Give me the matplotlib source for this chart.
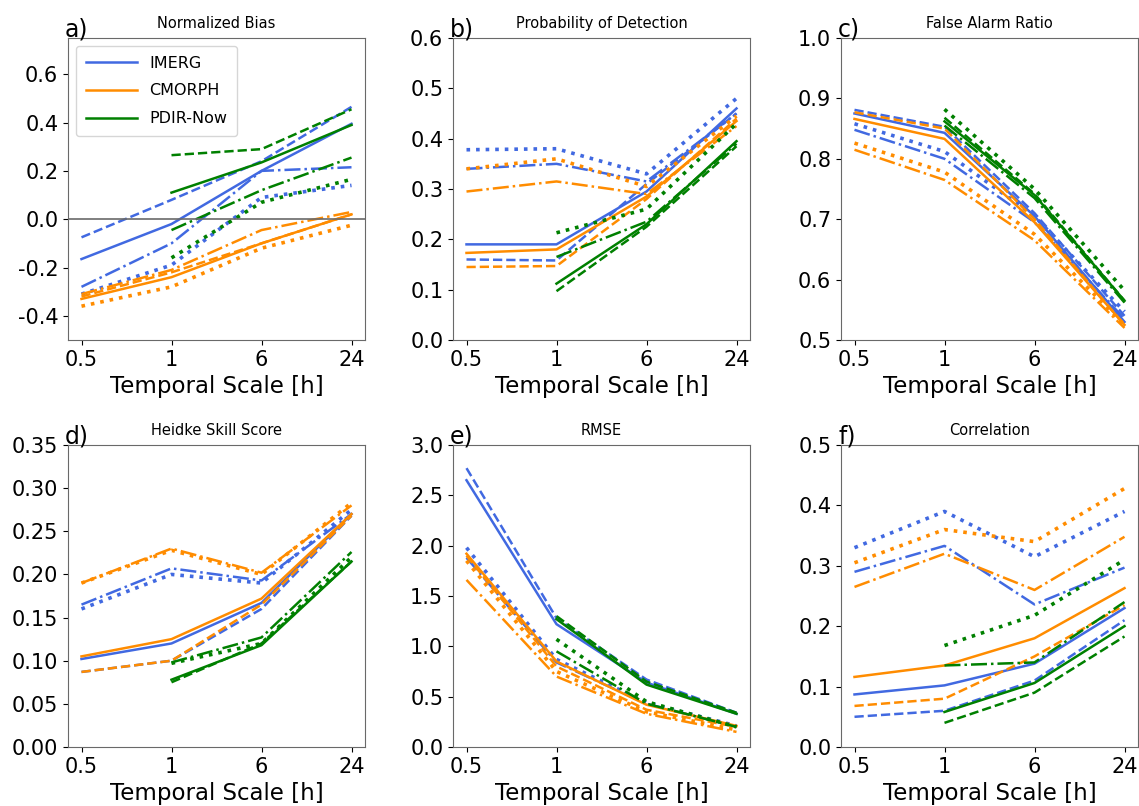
import numpy as np
import matplotlib.pyplot as plt

nan = np.nan

scales = ['0.5', '1', '6', '24']
products = ['IMERG', 'CMORPH', 'PDIR-Now']
colors = {'IMERG': 'royalblue', 'CMORPH': 'darkorange', 'PDIR-Now': 'green'}
styles = ['-', '--', '-.', ':']

# each metric: product -> [solid, dashed, dashdot, dotted] series over scales
bias = {
    'IMERG':    [[-0.165, -0.02, 0.20, 0.395], [-0.075, 0.08, 0.24, 0.465],
                 [-0.28, -0.10, 0.20, 0.215], [-0.31, -0.19, 0.09, 0.14]],
    'CMORPH':   [[-0.33, -0.24, -0.10, 0.02], [-0.32, -0.22, -0.10, 0.02],
                 [-0.31, -0.21, -0.045, 0.03], [-0.36, -0.28, -0.12, -0.025]],
    'PDIR-Now': [[nan, 0.11, 0.235, 0.39], [nan, 0.265, 0.29, 0.455],
                 [nan, -0.045, 0.12, 0.255], [nan, -0.16, 0.07, 0.165]],
}
pod = {
    'IMERG':    [[0.19, 0.19, 0.295, 0.46], [0.16, 0.158, 0.31, 0.45],
                 [0.34, 0.35, 0.315, 0.45], [0.378, 0.38, 0.33, 0.48]],
    'CMORPH':   [[0.173, 0.18, 0.285, 0.435], [0.145, 0.147, 0.28, 0.44],
                 [0.295, 0.315, 0.29, 0.425], [0.34, 0.36, 0.305, 0.445]],
    'PDIR-Now': [[nan, 0.112, 0.23, 0.395], [nan, 0.097, 0.225, 0.385],
                 [nan, 0.165, 0.235, 0.39], [nan, 0.213, 0.26, 0.43]],
}
far = {
    'IMERG':    [[0.875, 0.843, 0.705, 0.53], [0.881, 0.853, 0.71, 0.54],
                 [0.848, 0.80, 0.695, 0.535], [0.858, 0.812, 0.705, 0.547]],
    'CMORPH':   [[0.866, 0.833, 0.695, 0.525], [0.877, 0.85, 0.70, 0.525],
                 [0.815, 0.765, 0.665, 0.52], [0.826, 0.778, 0.675, 0.525]],
    'PDIR-Now': [[nan, 0.862, 0.74, 0.565], [nan, 0.868, 0.742, 0.565],
                 [nan, 0.855, 0.735, 0.562], [nan, 0.882, 0.75, 0.582]],
}
hss = {
    'IMERG':    [[0.102, 0.12, 0.167, 0.27], [0.087, 0.10, 0.16, 0.268],
                 [0.165, 0.207, 0.193, 0.27], [0.16, 0.20, 0.19, 0.275]],
    'CMORPH':   [[0.105, 0.125, 0.172, 0.27], [0.087, 0.10, 0.165, 0.268],
                 [0.19, 0.23, 0.202, 0.28], [0.19, 0.228, 0.20, 0.283]],
    'PDIR-Now': [[nan, 0.078, 0.118, 0.215], [nan, 0.075, 0.12, 0.215],
                 [nan, 0.098, 0.127, 0.226], [nan, 0.097, 0.12, 0.22]],
}
rmse = {
    'IMERG':    [[2.65, 1.22, 0.64, 0.33], [2.77, 1.28, 0.67, 0.34],
                 [1.88, 0.84, 0.43, 0.20], [1.98, 0.87, 0.44, 0.21]],
    'CMORPH':   [[1.92, 0.85, 0.42, 0.21], [1.90, 0.80, 0.37, 0.20],
                 [1.66, 0.70, 0.33, 0.15], [1.85, 0.75, 0.35, 0.17]],
    'PDIR-Now': [[nan, 1.27, 0.62, 0.33], [nan, 1.30, 0.65, 0.34],
                 [nan, 0.95, 0.43, 0.20], [nan, 1.07, 0.45, 0.20]],
}
corr = {
    'IMERG':    [[0.087, 0.102, 0.138, 0.23], [0.05, 0.06, 0.11, 0.21],
                 [0.29, 0.333, 0.236, 0.297], [0.33, 0.39, 0.315, 0.39]],
    'CMORPH':   [[0.116, 0.135, 0.18, 0.263], [0.068, 0.08, 0.15, 0.235],
                 [0.265, 0.32, 0.26, 0.348], [0.305, 0.36, 0.34, 0.428]],
    'PDIR-Now': [[nan, 0.058, 0.106, 0.20], [nan, 0.04, 0.09, 0.183],
                 [nan, 0.135, 0.14, 0.24], [nan, 0.168, 0.218, 0.31]],
}

panels = [
    ('a)', 'Normalized Bias', bias, (-0.5, 0.75), [-0.4, -0.2, 0.0, 0.2, 0.4, 0.6], '{:.1f}'),
    ('b)', 'Probability of Detection', pod, (0, 0.6), np.arange(0, 0.61, 0.1), '{:.1f}'),
    ('c)', 'False Alarm Ratio', far, (0.5, 1.0), np.arange(0.5, 1.01, 0.1), '{:.1f}'),
    ('d)', 'Heidke Skill Score', hss, (0, 0.35), np.arange(0, 0.351, 0.05), '{:.2f}'),
    ('e)', 'RMSE', rmse, (0, 3.0), np.arange(0, 3.01, 0.5), '{:.1f}'),
    ('f)', 'Correlation', corr, (0, 0.5), np.arange(0, 0.51, 0.1), '{:.1f}'),
]

fig = plt.figure(figsize=(11.39, 8.06), dpi=100)
W, H = 1139, 806
lefts = [68, 453, 841]
tops = [38, 445]
aw, ah = 297, 302

x = np.arange(len(scales))
for i, (lab, title, data, ylim, yticks, fmt) in enumerate(panels):
    r, c = divmod(i, 3)
    ax = fig.add_axes([lefts[c] / W, 1 - (tops[r] + ah) / H, aw / W, ah / H])
    for p in products:
        for k, ls in enumerate(styles):
            lw = 2.6 if ls == ':' else 1.8
            ax.plot(x, data[p][k], ls=ls, color=colors[p], lw=lw,
                    label=p if k == 0 else None)
    if i == 0:
        ax.axhline(0, color='dimgray', lw=1.2)
        ax.legend(loc='upper left', fontsize=11.5, handlelength=3.2,
                  borderpad=0.6, labelspacing=0.8)
    ax.set_ylim(*ylim)
    ax.set_yticks(yticks)
    ax.set_yticklabels([fmt.format(v) for v in yticks])
    ax.set_xticks(x)
    ax.set_xticklabels(scales)
    ax.tick_params(labelsize=15)
    ax.set_xlabel('Temporal Scale [h]', fontsize=16.5)
    ax.set_title(title, fontsize=10.5, pad=7)
    ax.text(-0.01, 0.99, lab, transform=ax.transAxes, fontsize=17,
            va='bottom', ha='left')
    for s in ax.spines.values():
        s.set_color('dimgray')

fig.savefig('out.png', dpi=100)
